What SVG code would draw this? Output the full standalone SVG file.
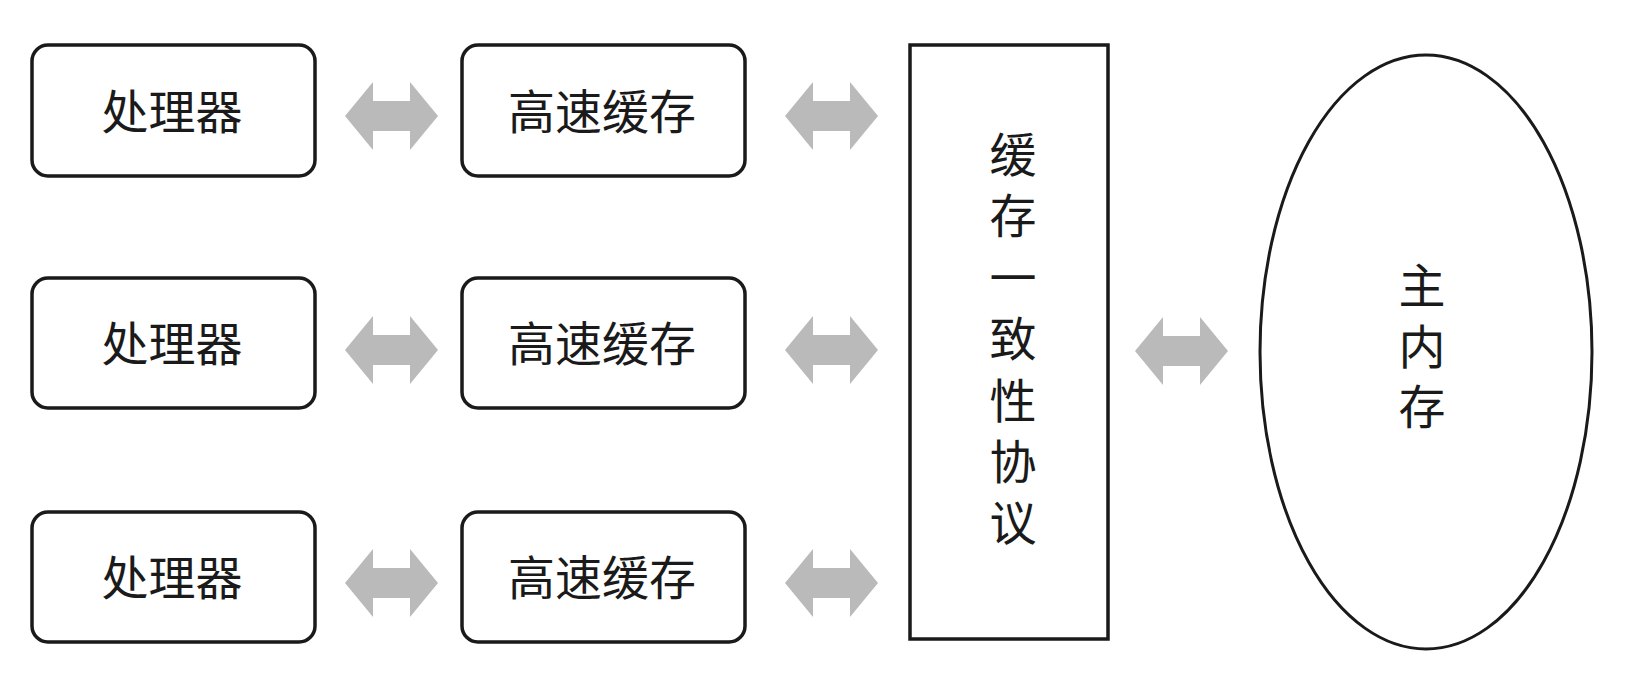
<svg xmlns="http://www.w3.org/2000/svg" width="1626" height="676" viewBox="0 0 1626 676">
<style>
.box{fill:#fff;stroke:#1a1a1a;stroke-width:3.5}
.lbl{font-family:"Noto Sans CJK SC","Noto Sans",sans-serif;font-size:47px;fill:#1a1a1a;text-anchor:middle;dominant-baseline:central}
.vch{font-family:"Liberation Sans","Noto Sans CJK SC",sans-serif;font-size:47px;fill:#1a1a1a;text-anchor:middle}
.arr{fill:#bababa}
</style>
<defs>
<path id="dbl" d="M0,0 L28,-34 L28,-15 L65,-15 L65,-34 L93,0 L65,34 L65,15 L28,15 L28,34 Z"/>
</defs>
<rect width="1626" height="676" fill="#fff"/>
<g id="connectors" class="arr">
<use href="#dbl" x="345" y="116"/>
<use href="#dbl" x="785" y="116"/>
<use href="#dbl" x="345" y="350"/>
<use href="#dbl" x="785" y="350"/>
<use href="#dbl" x="345" y="583"/>
<use href="#dbl" x="785" y="583"/>
<use href="#dbl" x="1135" y="351"/>
</g>
<g id="cpu1"><rect class="box" x="32" y="45" width="283" height="131" rx="16"/><text class="lbl" x="172" y="108">处理器</text></g>
<g id="cache1"><rect class="box" x="462" y="45" width="283" height="131" rx="16"/><text class="lbl" x="602" y="108">高速缓存</text></g>
<g id="cpu2"><rect class="box" x="32" y="278" width="283" height="130" rx="16"/><text class="lbl" x="172" y="340">处理器</text></g>
<g id="cache2"><rect class="box" x="462" y="278" width="283" height="130" rx="16"/><text class="lbl" x="602" y="340">高速缓存</text></g>
<g id="cpu3"><rect class="box" x="32" y="512" width="283" height="130" rx="16"/><text class="lbl" x="172" y="574">处理器</text></g>
<g id="cache3"><rect class="box" x="462" y="512" width="283" height="130" rx="16"/><text class="lbl" x="602" y="574">高速缓存</text></g>
<g id="protocol"><rect class="box" x="910" y="45" width="198" height="594"/>
<text class="vch" x="1013" y="172">缓</text>
<text class="vch" x="1013" y="233">存</text>
<text class="vch" x="1013" y="295">一</text>
<text class="vch" x="1013" y="356">致</text>
<text class="vch" x="1013" y="418">性</text>
<text class="vch" x="1013" y="479">协</text>
<text class="vch" x="1013" y="540">议</text>
</g>
<g id="memory"><ellipse class="box" cx="1426" cy="352" rx="166" ry="297" style="stroke-width:3"/>
<text class="vch" x="1422" y="303">主</text>
<text class="vch" x="1422" y="364">内</text>
<text class="vch" x="1422" y="424">存</text>
</g>
</svg>
